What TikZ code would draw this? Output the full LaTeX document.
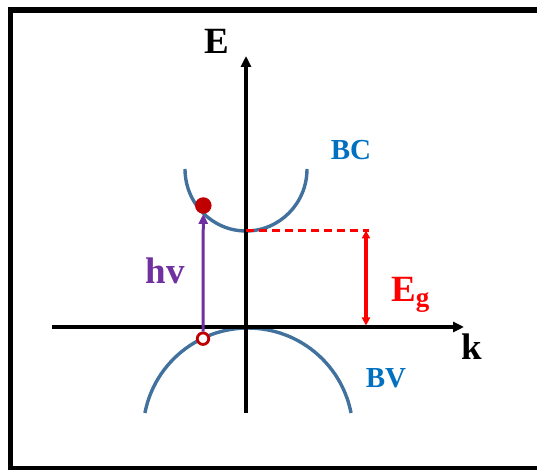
\documentclass[tikz,border=0pt]{standalone}
\usepackage{fontspec}
\setmainfont{Liberation Serif}
\usetikzlibrary{arrows.meta}
\definecolor{bandblue}{HTML}{41719C}
\definecolor{txtblue}{HTML}{0070C0}
\definecolor{dkred}{HTML}{C00000}
\definecolor{hvpurple}{HTML}{7030A0}
\definecolor{egred}{HTML}{FF0000}
\begin{document}
\begin{tikzpicture}[x=1pt,y=1pt,
  axis/.style={line width=3.2pt,-{Triangle[length=11pt,width=10pt]}},
  band/.style={draw=bandblue,line width=3.4pt},
  lbl/.style={inner sep=0pt,font=\bfseries\fontsize{37}{37}\selectfont},
  blbl/.style={inner sep=0pt,text=txtblue,font=\bfseries\fontsize{29}{29}\selectfont},
  elec/.style={circle,fill=dkred,inner sep=0pt,minimum size=16.5pt},
  hole/.style={circle,draw=dkred,fill=white,line width=2.8pt,inner sep=0pt,minimum size=11.5pt},
  hvarrow/.style={draw=hvpurple,line width=3pt,-{Triangle[length=10pt,width=9pt]}},
  gapline/.style={draw=egred,line width=2.4pt,dash pattern=on 8pt off 5pt},
  gaparrow/.style={draw=egred,line width=3.5pt,{Triangle[length=8pt,width=8pt]}-{Triangle[length=8pt,width=8pt]}}]
\useasboundingbox (0,0) rectangle (537,470);
% frame
\draw[line width=5.5pt] (545,460) -- (10.5,460) -- (10.5,1.5) -- (545,1.5);
% axes
\coordinate (ybot) at (246,57);
\coordinate (ytop) at (246,414);
\coordinate (xl) at (52,143);
\coordinate (xr) at (464,143);
% bands
\draw[band] (185,301) arc[start angle=180,end angle=360,x radius=61,y radius=62];
\draw[band] (144.9,57) arc[start angle=169,end angle=11,radius=105];
\draw[axis] (ybot) -- (ytop);
\draw[axis] (xl) -- (xr);
% labels
\node[lbl] (E) at (217,429) {E};
\node[lbl] (k) at (472,123) {k};
\node[blbl] (BC) at (351,320) {BC};
\node[blbl] (BV) at (386,92) {BV};
\node[lbl,text=hvpurple] (hv) at (165,199) {hv};
\node[lbl,text=egred,anchor=base west] (Eg) at (391,168) {E\raisebox{-5pt}{\fontsize{27}{27}\selectfont g}};
% gap
\coordinate (cbmin) at (246,239.5);
\coordinate (dashend) at (369,239.5);
\draw[gapline] (cbmin) -- (dashend);
\coordinate (gtop) at (366,239.5);
\coordinate (gbot) at (366,144.5);
\draw[gaparrow] (gtop) -- (gbot);
% carriers
\node[elec] (el) at (203.3,264.5) {};
\node[hole] (ho) at (203,131.3) {};
\draw[hvarrow] (ho) -- (el);
\end{tikzpicture}
\end{document}
